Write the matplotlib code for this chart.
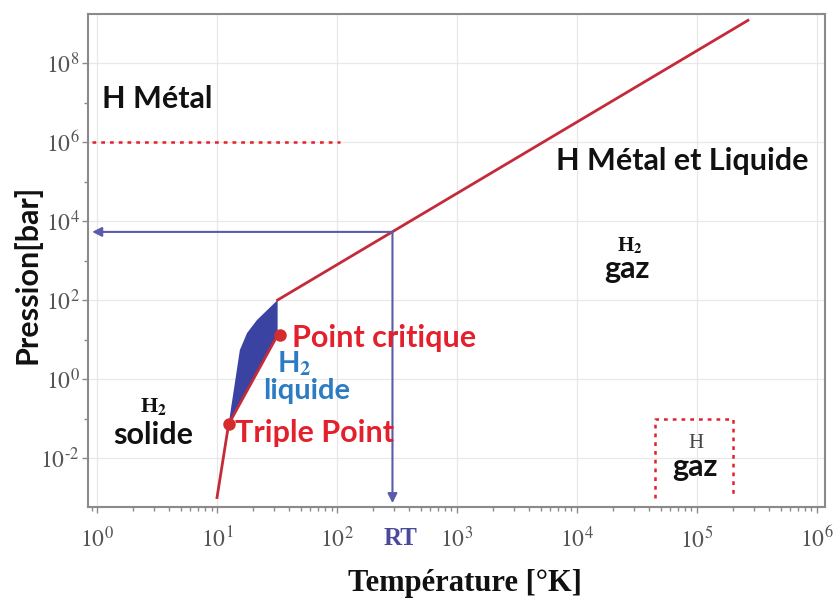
import math
import matplotlib
matplotlib.use("Agg")
import matplotlib.pyplot as plt
import matplotlib.ticker as mticker
import matplotlib.transforms as mtrans
from matplotlib.patches import Polygon

plt.rcParams['mathtext.fontset'] = 'stix'

# ---- data ----
sublim_T = [10.0, 12.5]
sublim_P = [1.0e-3, 0.072]
vapor_T = [12.5, 32.0]
vapor_P = [0.072, 13.0]
melt_T = [12.5, 15.5, 17.8, 21.5, 32.0]
melt_P = [0.072, 5.4, 14.6, 31.0, 100.0]
high_T = [32.0, 2.66e5]
high_P = [100.0, 1.2e9]
triple_point = (12.5, 0.072)
critical_point = (33.5, 13.0)
RT_T = 290.0
RT_P = 5300.0
metal_P = 1.0e6
metal_T_range = [0.91, 106.0]
gaz_box_T = [4.47e4, 2.0e5]
gaz_box_P = [1.0e-3, 0.1]
x_ticks = [1e0, 1e1, 1e2, 1e3, 1e4, 1e5, 1e6]
y_ticks = [1e-2, 1e0, 1e2, 1e4, 1e6, 1e8]
y_minor = [1e-1, 1e1, 1e3, 1e5, 1e7]

RED = '#c42a3a'
RED_TXT = '#e3202c'
BLUE_FILL = '#3a43a2'
ARROW = '#5b5bab'
LIQ = '#2c7cc4'
SANS = 'Lato'
SERIF = 'Liberation Serif'
FS = 22

fig = plt.figure(figsize=(8.36, 6.02), dpi=100)
ax = fig.add_axes([0.1053, 0.1578, 0.8815, 0.8189])
ax.set_xscale('log')
ax.set_yscale('log')
ax.set_xlim(10 ** -0.075, 10 ** 6.067)
ax.set_ylim(10 ** -3.24, 10 ** 9.24)


def pow_fmt(v, p):
    e = int(round(math.log10(v)))
    s = ('\u2010%d' % -e) if e < 0 else '%d' % e
    return r'$10^{%s}$' % s


ax.xaxis.set_major_locator(mticker.FixedLocator(x_ticks))
ax.xaxis.set_minor_locator(mticker.LogLocator(base=10, subs=range(2, 10)))
ax.xaxis.set_minor_formatter(mticker.NullFormatter())
ax.yaxis.set_major_locator(mticker.FixedLocator(y_ticks))
ax.yaxis.set_minor_locator(mticker.FixedLocator(y_minor))
ax.yaxis.set_minor_formatter(mticker.NullFormatter())
ax.xaxis.set_major_formatter(mticker.FuncFormatter(pow_fmt))
ax.yaxis.set_major_formatter(mticker.FuncFormatter(pow_fmt))
ax.tick_params(which='major', direction='out', length=4, width=1, color='#8a8a8a',
               labelsize=17, labelcolor='#555555')
ax.tick_params(axis='x', which='major', pad=10)
ax.tick_params(axis='y', which='major', pad=2)
ax.tick_params(which='minor', direction='out', length=3, width=1, color='#8a8a8a')
ax.grid(which='major', color='#e8e8e8', lw=0.9)
for s in ax.spines.values():
    s.set_color('#8a8a8a')
    s.set_linewidth(1.5)

# filled liquid region
poly = list(zip(melt_T, melt_P)) + [(vapor_T[-1], vapor_P[-1])] + list(zip(vapor_T[::-1], vapor_P[::-1]))
ax.add_patch(Polygon(poly, closed=True, facecolor=BLUE_FILL, edgecolor='none', zorder=2))

ax.plot(sublim_T, sublim_P, color=RED, lw=2, zorder=3)
ax.plot(vapor_T, vapor_P, color=RED, lw=2, zorder=3)
ax.plot(high_T, high_P, color=RED, lw=2, zorder=3)

# metal dotted line
ax.plot(metal_T_range, [metal_P, metal_P], color=RED_TXT, lw=1.8, ls=(0, (1.5, 2)), zorder=3)

# gaz dotted box (3 sides)
ax.plot([gaz_box_T[0], gaz_box_T[0], gaz_box_T[1], gaz_box_T[1]],
        [gaz_box_P[0], gaz_box_P[1], gaz_box_P[1], gaz_box_P[0]],
        color=RED_TXT, lw=1.8, ls=(0, (1.5, 2)), zorder=3)

# RT arrows
ax.annotate('', xy=(0.91, RT_P), xytext=(RT_T, RT_P),
            arrowprops=dict(arrowstyle='-|>', color=ARROW, lw=1.5, mutation_scale=14,
                            shrinkA=0, shrinkB=0), zorder=4)
ax.annotate('', xy=(RT_T, 7.2e-4), xytext=(RT_T, RT_P),
            arrowprops=dict(arrowstyle='-|>', color=ARROW, lw=1.5, mutation_scale=14,
                            shrinkA=0, shrinkB=0), zorder=4)

# points
ax.plot(*triple_point, 'o', color='#d42c2c', ms=8, zorder=5)
ax.plot(*critical_point, 'o', color='#d42c2c', ms=8, zorder=5)

# texts
def t(x, y, s, color='#111111', size=FS, weight='bold', family=SANS, ha='center'):
    ax.text(x, y, s, color=color, fontsize=size, fontweight=weight, family=family,
            ha=ha, va='baseline', zorder=6)


t(42.2, 6.46, 'Point critique', color=RED_TXT, ha='left')
t(14.1, 0.0254, 'Triple Point', color=RED_TXT, ha='left')
t(43.8, 1.5, 'H$_\\mathbf{2}$', color=LIQ, size=21)
t(56.2, 0.312, 'liquide', color=LIQ, size=21)
t(2.93, 0.15, 'H$_\\mathbf{2}$', size=16, family=SERIF)
t(2.93, 0.0226, 'solide')
t(1.1, 7.25e6, 'H Métal', ha='left')
t(7.5e4, 1.95e5, 'H Métal et Liquide')
t(2.77e4, 1700, 'H$_\\mathbf{2}$', size=15, family=SERIF)
t(2.6e4, 361, 'gaz')
t(9.8e4, 0.0175, 'H', color='#444444', size=15, weight='normal', family=SERIF)
t(9.6e4, 0.0035, 'gaz')

ax.text(341, -0.04, 'RT', color='#4a4a9c', fontsize=18, fontweight='bold', family=SERIF,
        ha='center', va='top', transform=mtrans.blended_transform_factory(ax.transData, ax.transAxes))

ax.set_xlabel('Température [°K]', fontsize=22, fontweight='bold', family=SERIF, color='#111111')
ax.set_ylabel('Pression[bar]', fontsize=22, fontweight='bold', family=SANS, color='#111111')
ax.xaxis.set_label_coords(0.5115, -0.126)
ax.yaxis.set_label_coords(-0.063, 0.4726)

fig.savefig('out.png', dpi=100)
